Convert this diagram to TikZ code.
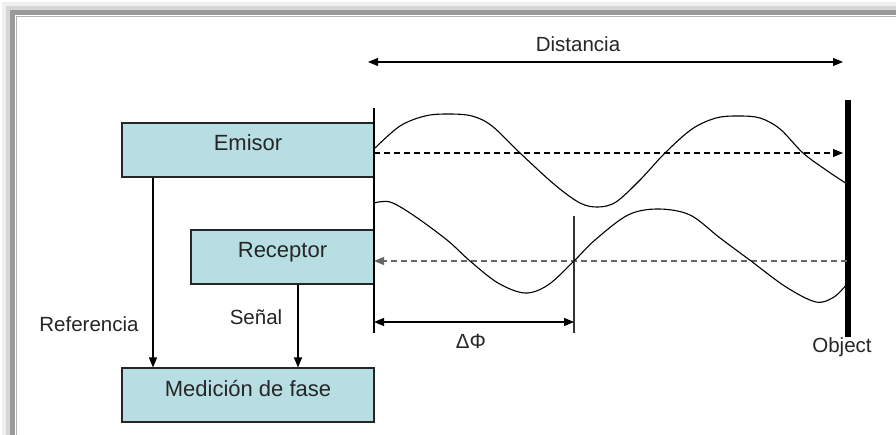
\documentclass[tikz,border=0pt]{standalone}
\usepackage{fontspec}
\setmainfont{Liberation Sans}
\usetikzlibrary{arrows.meta}
\definecolor{boxfill}{HTML}{B7DEE2}
\definecolor{txt}{HTML}{262626}
\tikzset{
  blk/.style={draw=black!85, line width=1.1pt, fill=boxfill, text=txt, font=\fontsize{22}{24}\selectfont,
     minimum height=54pt, inner xsep=0pt, inner ysep=0pt, text height=16pt, text depth=14pt},
  lbl/.style={text=txt, font=\fontsize{20.5}{22}\selectfont, inner sep=0pt},
  tip/.style={-{Triangle[length=10pt,width=8pt]}},
  tips/.style={{Triangle[length=10pt,width=8pt]}-{Triangle[length=10pt,width=8pt]}},
  ln/.style={line width=1.1pt, black},
  wave/.style={line width=1.1pt, black, smooth, tension=0.55},
  dsh/.style={line width=1.1pt, dash pattern=on 6pt off 4pt}
}
\begin{document}
\begin{tikzpicture}[x=1pt,y=-1pt]
\useasboundingbox (0,0) rectangle (896,435);
\fill[white] (0,0) rectangle (896,435);
% frame with shadow
\fill[black!6] (2,2) rectangle (896,12);
\fill[black!6] (2,2) rectangle (12,435);
\fill[black!16] (6,6) rectangle (896,12);
\fill[black!16] (6,6) rectangle (12,435);
\fill[black!40] (10,10) rectangle (896,15);
\fill[black!40] (10,10) rectangle (15,435);
\draw[black!30, line width=0.8pt] (16.5,16.5) -- (896,16.5);
\draw[black!30, line width=0.8pt] (16.5,16.5) -- (16.5,435);

% boxes
\node[blk, minimum width=252pt] (emisor) at (248,150) {Emisor};
\node[blk, minimum width=183pt] (receptor) at (282.5,257) {Receptor};
\node[blk, minimum width=252pt] (medicion) at (248,395) {Medición de fase};

% coordinates
\coordinate (refx) at (153,0);
\coordinate (senx) at (298,0);
\coordinate (vtop) at (374,108);
\coordinate (vbot) at (374,333);
\coordinate (v2top) at (574,216);
\coordinate (v2bot) at (574,333);
\coordinate (dl) at (368,62);
\coordinate (dr) at (843,62);
\coordinate (e1) at (374,153);
\coordinate (e2) at (843,153);
\coordinate (r1) at (847,261);
\coordinate (r2) at (374,261);
\coordinate (p1) at (374,322);
\coordinate (p2) at (574,322);
\coordinate (otop) at (848,100);
\coordinate (obot) at (848,337);

% vertical lines
\draw[ln] (vtop) -- (vbot);
\draw[ln, black!80] (v2top) -- (v2bot);
\draw[line width=6.5pt, black] (otop) -- (obot);

% box connectors
\draw[ln, tip] (emisor.south -| refx) -- (medicion.north -| refx);
\draw[ln, tip] (receptor.south -| senx) -- (medicion.north -| senx);

% labels
\node[lbl] (lref) at (89,324) {Referencia};
\node[lbl] (lsen) at (256,317) {Señal};
\node[lbl] (ldist) at (578,44) {Distancia};
\node[lbl] (ldphi) at (471,341) {ΔΦ};
\node[lbl] (lobj) at (842,347) {Object};

% distance arrows
\draw[ln, tips] (dl) -- (dr);
\draw[ln, tips] (p1) -- (p2);

% dashed arrows
\draw[dsh, black, -{Triangle[length=10pt,width=8pt]}] (e1) -- (e2);
\draw[dsh, black!60, -{Triangle[length=10pt,width=8pt]}] (r1) -- (r2);

% waves
\draw[wave] plot coordinates {(375,148) (400,126) (425,116) (448,114) (472,116) (492,126) (520,153) (555,185) (580,203) (598,207) (616,202) (640,180) (665,153) (692,129) (716,118) (738,116) (760,118) (780,129) (803,153) (826,170) (847,184)};
\draw[wave] plot coordinates {(374,203) (390,202) (413,215) (447,240) (470,261) (498,283) (525,293) (548,285) (574,261) (595,240) (628,215) (658,209) (690,215) (720,238) (751,261) (786,287) (816,302) (834,297) (847,284)};
\end{tikzpicture}
\end{document}
